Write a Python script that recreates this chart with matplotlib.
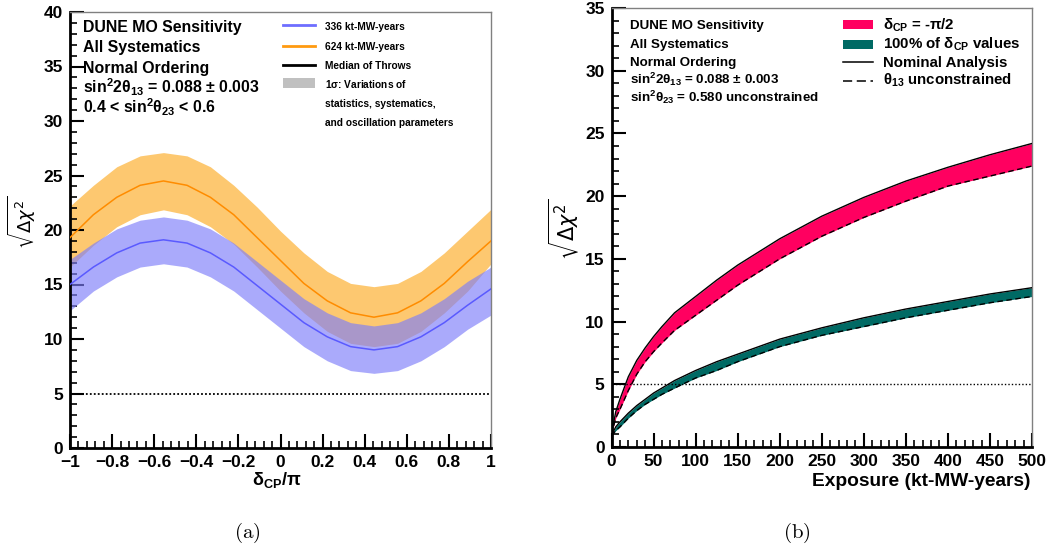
import matplotlib
matplotlib.use("Agg")
import matplotlib.pyplot as plt
from matplotlib.patches import Rectangle
from matplotlib.lines import Line2D

# ---------------- data: panel (a) ----------------
delta_cp = [-1.0, -0.889, -0.778, -0.667, -0.556, -0.444, -0.333, -0.222, -0.111, 0.0,
            0.111, 0.222, 0.333, 0.444, 0.556, 0.667, 0.778, 0.889, 1.0]
med_336 = [15.0, 16.6, 17.9, 18.8, 19.1, 18.8, 17.9, 16.6, 14.9, 13.2,
           11.5, 10.2, 9.3, 9.0, 9.3, 10.2, 11.5, 13.1, 14.6]
lo_336 = [12.6, 14.4, 15.7, 16.6, 16.9, 16.6, 15.7, 14.4, 12.7, 11.0,
          9.3, 8.0, 7.1, 6.85, 7.1, 8.0, 9.3, 10.9, 12.2]
hi_336 = [17.3, 18.8, 20.1, 20.9, 21.2, 20.9, 20.1, 18.8, 17.1, 15.4,
          13.7, 12.4, 11.5, 11.2, 11.5, 12.4, 13.7, 15.3, 16.6]
med_624 = [19.3, 21.4, 23.0, 24.1, 24.5, 24.1, 23.0, 21.4, 19.3, 17.2,
           15.1, 13.5, 12.4, 12.0, 12.4, 13.5, 15.1, 17.1, 19.0]
lo_624 = [16.6, 18.6, 20.3, 21.4, 21.85, 21.4, 20.3, 18.7, 16.6, 14.4,
          12.4, 10.7, 9.6, 9.3, 9.6, 10.7, 12.4, 14.4, 16.9]
hi_624 = [22.2, 24.1, 25.8, 26.8, 27.1, 26.8, 25.8, 24.1, 22.1, 19.9,
          17.9, 16.2, 15.1, 14.8, 15.1, 16.2, 17.9, 19.9, 21.9]
xticks_a = [-1.0, -0.8, -0.6, -0.4, -0.2, 0.0, 0.2, 0.4, 0.6, 0.8, 1.0]
xticklabels_a = ["\u22121", "\u22120.8", "\u22120.6", "\u22120.4", "\u22120.2", "0",
                 "0.2", "0.4", "0.6", "0.8", "1"]
yticks_a = [0, 5, 10, 15, 20, 25, 30, 35, 40]

# ---------------- data: panel (b) ----------------
exposure = [0, 5, 10, 20, 30, 40, 50, 60, 75, 100, 125, 150, 200, 250, 300, 350, 400, 450, 500]
pi2_nominal = [1.0, 2.8, 3.8, 5.6, 6.9, 7.9, 8.8, 9.6, 10.7, 12.0, 13.3, 14.5, 16.6,
               18.4, 19.9, 21.2, 22.3, 23.3, 24.2]
pi2_th13free = [1.0, 2.3, 3.0, 4.5, 5.8, 6.8, 7.6, 8.3, 9.3, 10.5, 11.7, 12.9, 15.0,
                16.8, 18.3, 19.6, 20.8, 21.6, 22.4]
all_nominal = [0.9, 1.6, 2.0, 2.7, 3.3, 3.8, 4.3, 4.7, 5.3, 6.1, 6.8, 7.4, 8.6,
               9.5, 10.3, 11.0, 11.6, 12.2, 12.7]
all_th13free = [0.9, 1.3, 1.6, 2.3, 2.9, 3.4, 3.8, 4.2, 4.7, 5.5, 6.1, 6.8, 8.0,
                8.9, 9.6, 10.3, 10.9, 11.5, 12.0]
xticks_b = [0, 50, 100, 150, 200, 250, 300, 350, 400, 450, 500]
yticks_b = [0, 5, 10, 15, 20, 25, 30, 35]

# ---------------- style ----------------
plt.rcParams["font.family"] = ["Liberation Sans", "DejaVu Sans"]
plt.rcParams["font.weight"] = "normal"
plt.rcParams["mathtext.fontset"] = "custom"
plt.rcParams["mathtext.rm"] = "Liberation Sans:bold"
plt.rcParams["mathtext.bf"] = "Liberation Sans:bold"
plt.rcParams["mathtext.sf"] = "Liberation Sans:bold"
plt.rcParams["mathtext.it"] = "Liberation Sans:italic:bold"

W, H = 1056, 548
fig = plt.figure(figsize=(W / 100, H / 100), dpi=100)
fig.patch.set_facecolor("white")

C_OR_BAND = "#fdc870"
C_BL_BAND = "#7d7dfa"
C_OR_LINE = "#ff8c00"
C_BL_LINE = "#5a5aff"
C_PINK = "#ff0060"
C_TEAL = "#006a64"


def style_axes(ax):
    for s in ("left", "bottom"):
        ax.spines[s].set_linewidth(2.0)
        ax.spines[s].set_color("black")
    for s in ("top", "right"):
        ax.spines[s].set_linewidth(1.0)
        ax.spines[s].set_color("#808080")
    ax.tick_params(which="major", direction="in", length=10, width=1.5,
                   top=False, right=False, labelsize=12.5, pad=5)
    ax.tick_params(which="minor", direction="in", length=5, width=1.2,
                   top=False, right=False)
    for lab in ax.get_xticklabels() + ax.get_yticklabels():
        lab.set_fontweight("bold")


# ---------------- panel (a) ----------------
axL = fig.add_axes([70 / W, 1 - 448 / H, 421 / W, 436 / H])
axL.fill_between(delta_cp, lo_624, hi_624, color=C_OR_BAND, lw=0, zorder=1)
axL.fill_between(delta_cp, lo_336, hi_336, color=C_BL_BAND, alpha=0.65, lw=0, zorder=2)
axL.plot(delta_cp, med_624, color=C_OR_LINE, lw=1.1, zorder=3)
axL.plot(delta_cp, med_336, color=C_BL_LINE, lw=1.1, zorder=3)
axL.axhline(5, color="black", lw=1.3, dashes=(1, 1.2), zorder=4)
axL.set_xlim(-1, 1)
axL.set_ylim(0, 40)
axL.set_xticks(xticks_a)
axL.set_xticklabels(xticklabels_a)
axL.set_yticks(yticks_a)
axL.set_xticks([-1 + 0.04 * i for i in range(51)], minor=True)
axL.set_yticks(range(0, 41), minor=True)
style_axes(axL)

# ---------------- panel (b) ----------------
axR = fig.add_axes([611.5 / W, 1 - 447 / H, 420.5 / W, 439 / H])
axR.fill_between(exposure, pi2_th13free, pi2_nominal, color=C_PINK, lw=0, zorder=1)
axR.fill_between(exposure, all_th13free, all_nominal, color=C_TEAL, lw=0, zorder=1)
for nom, free in ((pi2_nominal, pi2_th13free), (all_nominal, all_th13free)):
    axR.plot(exposure, nom, color="black", lw=1.0, zorder=3)
    axR.plot(exposure, free, color="black", lw=1.0, dashes=(4, 2.5), zorder=3)
axR.axhline(5, color="black", lw=1.0, dashes=(1, 1.5), zorder=4)
axR.set_xlim(0, 500)
axR.set_ylim(0, 35)
axR.set_xticks(xticks_b)
axR.set_yticks(yticks_b)
axR.set_xticks(range(0, 501, 10), minor=True)
axR.set_yticks(range(0, 36), minor=True)
style_axes(axR)

# ---------------- overlay (pixel coordinates) ----------------
ov = fig.add_axes([0, 0, 1, 1])
ov.set_xlim(0, W)
ov.set_ylim(H, 0)
ov.axis("off")
ov.patch.set_alpha(0)

# panel (a) info text
info_a = ["DUNE MO Sensitivity", "All Systematics", "Normal Ordering",
          r"sin$^{2}$2$\mathrm{\theta}_{13}$ = 0.088 $\pm$ 0.003",
          r"0.4 < sin$^{2}$$\mathrm{\theta}_{23}$ < 0.6"]
for s, yb in zip(info_a, [31.7, 52.3, 72.7, 93.3, 113.3]):
    ov.text(83, yb, s, fontsize=11.4, fontweight="bold", va="baseline", ha="left")

# panel (a) legend
leg_a = ["336 kt-MW-years", "624 kt-MW-years", "Median of Throws",
         r"1$\mathrm{\sigma}$: Variations of", "statistics, systematics,",
         "and oscillation parameters"]
for s, yb in zip(leg_a, [30, 50, 68.8, 87.5, 107, 126.3]):
    ov.text(325, yb, s, fontsize=7.3, fontweight="bold", va="baseline", ha="left")
ov.add_line(Line2D([283, 315], [25.3, 25.3], color="#6e6eff", lw=2))
ov.add_line(Line2D([283, 315], [46, 46], color="#ff9a10", lw=2))
ov.add_line(Line2D([283, 315], [65, 65], color="black", lw=2))
ov.add_patch(Rectangle((283, 77.7), 32, 10.6, color="#c0c0c0", lw=0))

# panel (b) info text
info_b = ["DUNE MO Sensitivity", "All Systematics", "Normal Ordering",
          r"sin$^{2}$2$\mathrm{\theta}_{13}$ = 0.088 $\pm$ 0.003",
          r"sin$^{2}$$\mathrm{\theta}_{23}$ = 0.580 unconstrained"]
for s, yb in zip(info_b, [29.3, 47.7, 66, 84.0, 102.0]):
    ov.text(630, yb, s, fontsize=9.6, fontweight="bold", va="baseline", ha="left")

# panel (b) legend
leg_b = [r"$\mathrm{\delta}_{\mathrm{CP}}$ = -$\mathrm{\pi}$/2",
         r"100% of $\mathrm{\delta}_{\mathrm{CP}}$ values",
         "Nominal Analysis", r"$\mathrm{\theta}_{13}$ unconstrained"]
for s, yb in zip(leg_b, [29.3, 48.3, 66.7, 85]):
    ov.text(882.7, yb, s, fontsize=10.8, fontweight="bold", va="baseline", ha="left")
ov.add_patch(Rectangle((843.3, 20), 30, 9.3, color=C_PINK, lw=0))
ov.add_patch(Rectangle((843.3, 40), 30, 9.3, color=C_TEAL, lw=0))
ov.add_line(Line2D([843.3, 873.3], [62.3, 62.3], color="black", lw=1.1))
ov.add_line(Line2D([843.3, 873.3], [81, 81], color="black", lw=1.1, dashes=(6, 3)))

# axis titles
ov.text(22, 222, r"$\sqrt{\Delta\chi^{2}}$", fontsize=13, rotation=90,
        ha="center", va="center", math_fontfamily="dejavusans")
ov.text(564, 229, r"$\sqrt{\Delta\chi^{2}}$", fontsize=15, rotation=90,
        ha="center", va="center", math_fontfamily="dejavusans")
ov.text(277, 480, r"$\mathrm{\delta}_{\mathrm{CP}}$/$\mathrm{\pi}$", fontsize=13,
        fontweight="bold", ha="center", va="center")
ov.text(1030, 482, "Exposure (kt-MW-years)", fontsize=13.8, fontweight="bold",
        ha="right", va="center")

# captions
ov.text(247, 533, r"$\mathrm{(a)}$", fontsize=15, ha="center", va="center",
        math_fontfamily="cm")
ov.text(797, 533, r"$\mathrm{(b)}$", fontsize=15, ha="center", va="center",
        math_fontfamily="cm")

fig.savefig("out.png", dpi=100, facecolor="white")
